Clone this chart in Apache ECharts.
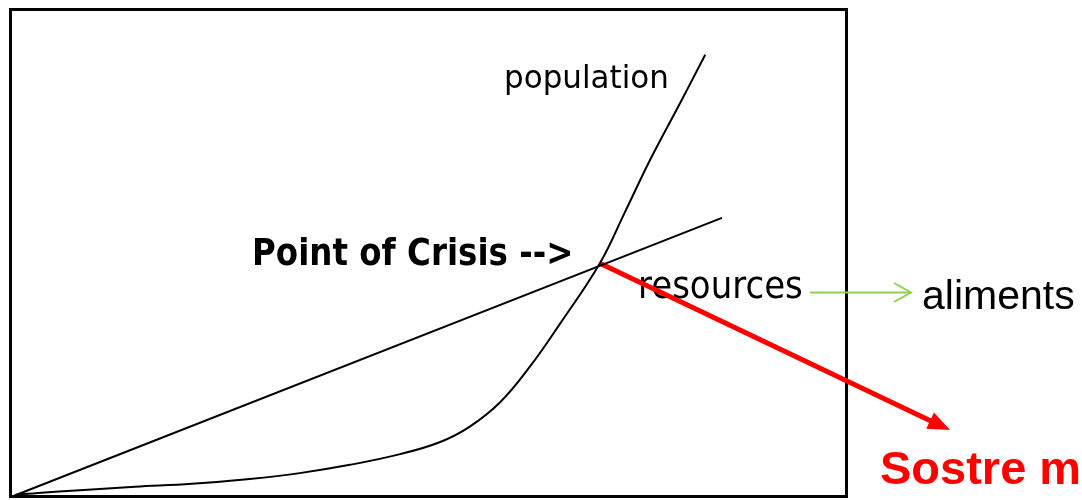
<!DOCTYPE html>
<html>
<head>
<meta charset="utf-8">
<script src="https://cdn.jsdelivr.net/npm/echarts@6/dist/echarts.min.js"></script>
<style>html,body{margin:0;padding:0;background:#fff;}#c{width:1082px;height:500px;}</style>
</head>
<body>
<div id="c"></div>
<script>
// Time (0..100) vs quantity (0..100)
const resourcesX = [0.5, 85.1];
const resourcesY = [0.2, 57.2];
const populationX = [0.5, 3.3, 8.3, 14.9, 21.7, 28.6, 34.6, 40.6, 46.6, 51.4, 54.9, 58.6, 62.1, 65.7, 70.5, 73.5, 76.5, 80.1, 83.1];
const populationY = [0.3, 0.7, 1.3, 2.0, 2.6, 3.6, 4.8, 6.5, 8.7, 11.2, 14.3, 19.4, 26.6, 35.4, 47.9, 58.4, 69.1, 80.8, 90.7];
const crisisPoint = [70.5, 47.9];
const labels = {
  population: 'population',
  crisis: 'Point of Crisis -->',
  resources: 'resources',
  food: 'aliments',
  red: 'Sostre m'
};

const zip = (xs, ys) => xs.map((x, i) => [x, ys[i]]);

const chart = echarts.init(document.getElementById('c'), null, {renderer: 'canvas'});
const hidden = {
  axisLine: {show: false}, axisTick: {show: false}, axisLabel: {show: false}, splitLine: {show: false}
};
chart.setOption({
  animation: false,
  backgroundColor: '#fff',
  grid: {
    show: true, left: 10.5, top: 9.5, width: 836, height: 487,
    borderColor: '#000', borderWidth: 3, backgroundColor: 'transparent',
    containLabel: false, outerBoundsMode: 'none'
  },
  xAxis: Object.assign({type: 'value', min: 0, max: 100}, hidden),
  yAxis: Object.assign({type: 'value', min: 0, max: 100}, hidden),
  series: [
    {
      name: 'resources', type: 'line', data: zip(resourcesX, resourcesY),
      symbol: 'none', lineStyle: {color: '#000', width: 2}, itemStyle: {color: '#000'}
    },
    {
      name: 'population', type: 'line', data: zip(populationX, populationY),
      symbol: 'none', smooth: 0.4, lineStyle: {color: '#000', width: 2}, itemStyle: {color: '#000'}
    }
  ]
});

const p0 = chart.convertToPixel({gridIndex: 0}, crisisPoint);
const tip = [950, 430];
const ang = Math.atan2(tip[1] - p0[1], tip[0] - p0[0]);
const hl = 22, hw = 9;
const base = [tip[0] - hl * Math.cos(ang), tip[1] - hl * Math.sin(ang)];
const nx = -Math.sin(ang), ny = Math.cos(ang);

// place text by its vertical middle
function txt(text, x, mid, font, fill, sy) {
  sy = sy || 1;
  return {
    type: 'text', silent: true, position: [x, mid], scaleY: sy,
    style: {x: 0, y: 0, text: text, fill: fill, font: font, align: 'left', verticalAlign: 'middle'}
  };
}

chart.setOption({
  graphic: [
    txt(labels.population, 504, 80, '31px "DejaVu Sans"', '#000', 1.05),
    txt(labels.crisis, 252, 255.5, 'bold 32.5px "DejaVu Sans"', '#000', 1.15),
    txt(labels.resources, 638, 288, '34px "DejaVu Sans"', '#000', 1.08),
    txt(labels.food, 922, 297.5, '41px "Liberation Sans"', '#000', 1),
    txt(labels.red, 880, 471, 'bold 47px "Liberation Sans"', '#ff0000', 1),
    // green arrow
    {type: 'line', silent: true, shape: {x1: 810, y1: 292.5, x2: 911, y2: 292.5}, style: {stroke: '#92d050', lineWidth: 2}},
    {type: 'polyline', silent: true, shape: {points: [[894, 283], [911, 292.5], [894, 302]]}, style: {stroke: '#92d050', lineWidth: 2, fill: null}},
    // red arrow
    {type: 'line', silent: true, shape: {x1: p0[0], y1: p0[1], x2: base[0] + 2 * Math.cos(ang), y2: base[1] + 2 * Math.sin(ang)}, style: {stroke: '#ff0000', lineWidth: 5}},
    {type: 'polygon', silent: true, shape: {points: [tip, [base[0] + nx * hw, base[1] + ny * hw], [base[0] - nx * hw, base[1] - ny * hw]]}, style: {fill: '#ff0000'}}
  ]
});
</script>
</body>
</html>
